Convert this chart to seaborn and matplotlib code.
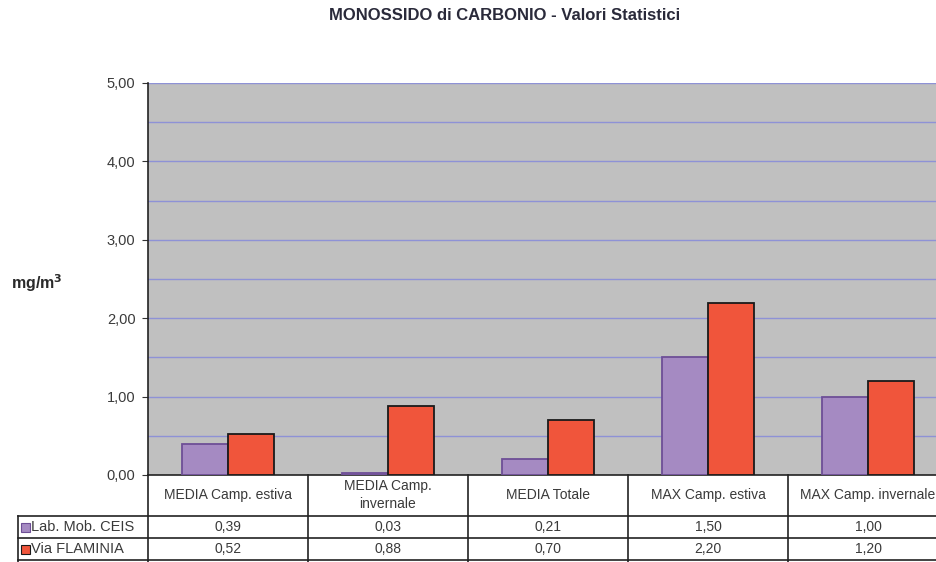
import matplotlib
matplotlib.use("Agg")
import matplotlib.pyplot as plt
import matplotlib.transforms as mtransforms
from matplotlib.lines import Line2D
from matplotlib.patches import Rectangle
import seaborn as sns
import pandas as pd

categories = ["MEDIA Camp. estiva", "MEDIA Camp.\ninvernale", "MEDIA Totale",
              "MAX Camp. estiva", "MAX Camp. invernale"]
series_names = ["Lab. Mob. CEIS", "Via FLAMINIA"]
ceis_values = [0.39, 0.03, 0.21, 1.50, 1.00]
flaminia_values = [0.52, 0.88, 0.70, 2.20, 1.20]
y_ticks = [0, 1, 2, 3, 4, 5]

colors = {"Lab. Mob. CEIS": "#A58AC2", "Via FLAMINIA": "#F0553B"}
edges = {"Lab. Mob. CEIS": "#6E4F96", "Via FLAMINIA": "#1A1A1A"}
text_col = "#3A3A3A"

rows = []
for i, c in enumerate(categories):
    rows.append({"cat": c, "serie": series_names[0], "val": ceis_values[i]})
    rows.append({"cat": c, "serie": series_names[1], "val": flaminia_values[i]})
df = pd.DataFrame(rows)

plt.rcParams["font.family"] = ["Liberation Sans", "DejaVu Sans"]

fig = plt.figure(figsize=(9.37, 5.62), dpi=100)
W, H = 937, 562
left_px, right_px, top_px, bot_px = 148, 948, 83, 475
ax = fig.add_axes([left_px / W, (H - bot_px) / H,
                   (right_px - left_px) / W, (bot_px - top_px) / H])
ax.set_facecolor("#C0C0C0")

sns.barplot(data=df, x="cat", y="val", hue="serie", order=categories,
            hue_order=series_names, palette=colors, width=0.575, gap=0,
            ax=ax, legend=False, saturation=1)

for patch, serie in zip(ax.patches, [s for s in series_names for _ in categories]):
    patch.set_edgecolor(edges[serie])
    patch.set_linewidth(1.3)
    patch.set_zorder(3)

ax.set_xlim(-0.5, len(categories) - 0.5)
ax.set_ylim(0, 5)
ax.set_yticks(y_ticks)
ax.set_yticklabels([f"{v:.2f}".replace(".", ",") for v in y_ticks],
                   fontsize=10.5, color=text_col)
ax.tick_params(axis="y", length=4, color="#333333", pad=5)
for g in [0.5 * k for k in range(1, 11)]:
    ax.axhline(g, color="#8E92D6", linewidth=1.0, zorder=1)
ax.set_xticks([])
ax.set_xlabel("")
ax.set_ylabel("")
for s in ["top", "right"]:
    ax.spines[s].set_visible(False)
ax.spines["left"].set_color("#222222")
ax.spines["bottom"].set_color("#222222")
ax.spines["left"].set_linewidth(1.2)
ax.spines["bottom"].set_linewidth(1.2)

fig.text(505 / W, 1 - 15 / H, "MONOSSIDO di CARBONIO - Valori Statistici",
         ha="center", va="center", fontsize=12, fontweight="bold", color="#2A2A3A")
fig.text(37 / W, 1 - 283 / H, "mg/m$^\\mathbf{3}$", ha="center", va="center",
         fontsize=11.5, fontweight="bold", color="#2A2A2A")

# data table below the plot
tr = mtransforms.blended_transform_factory(ax.transData, ax.transAxes)
hpx = bot_px - top_px
def yf(px):
    return (bot_px - px) / hpx

label_left = -0.5 - (left_px - 18) / ((right_px - left_px) / len(categories))
line_kw = dict(color="#222222", linewidth=1.2, transform=tr, clip_on=False)
right_x = len(categories) - 0.5
# vertical lines
for k in range(len(categories) + 1):
    xb = -0.5 + k
    ax.add_line(Line2D([xb, xb], [yf(475), yf(562)], **line_kw))
ax.add_line(Line2D([label_left, label_left], [yf(516), yf(562)], **line_kw))
# horizontal lines
for ypx in [516, 538, 560]:
    ax.add_line(Line2D([label_left, right_x], [yf(ypx), yf(ypx)], **line_kw))

for i, c in enumerate(categories):
    ax.text(i, yf(495), c, transform=tr, ha="center", va="center",
            fontsize=10, color=text_col, clip_on=False, linespacing=1.45)
    ax.text(i, yf(527), f"{ceis_values[i]:.2f}".replace(".", ","), transform=tr,
            ha="center", va="center", fontsize=10, color=text_col, clip_on=False)
    ax.text(i, yf(549), f"{flaminia_values[i]:.2f}".replace(".", ","), transform=tr,
            ha="center", va="center", fontsize=10, color=text_col, clip_on=False)

for serie, ypx in zip(series_names, [527, 549]):
    fig.patches.append(Rectangle((21 / W, 1 - (ypx + 4.5) / H), 9 / W, 9 / H,
                                 transform=fig.transFigure, facecolor=colors[serie],
                                 edgecolor=edges[serie], linewidth=0.8))
    fig.text(31 / W, 1 - ypx / H, serie, ha="left", va="center",
             fontsize=10.5, color=text_col)

fig.savefig("out.png", dpi=100)
